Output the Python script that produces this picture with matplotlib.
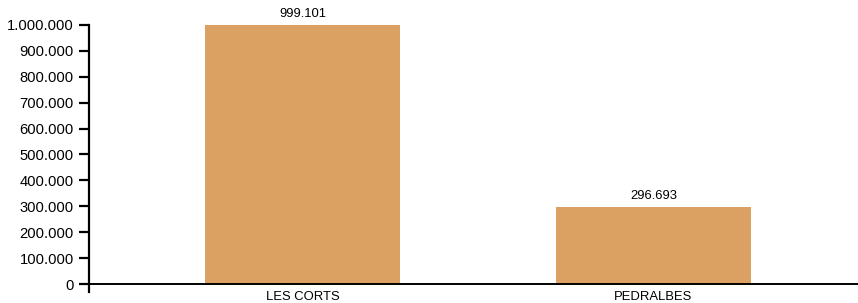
import matplotlib
matplotlib.use('Agg')
import matplotlib.pyplot as plt
from matplotlib.ticker import FuncFormatter

barrios = ['LES CORTS', 'PEDRALBES']
valores = [999101, 296693]
yticks = [0, 100000, 200000, 300000, 400000, 500000, 600000, 700000, 800000, 900000, 1000000]

plt.rcParams['font.family'] = ['Liberation Sans', 'DejaVu Sans']


def punto(v):
    return '{:,.0f}'.format(v).replace(',', '.')


fig = plt.figure(figsize=(8.58, 3.03), dpi=100)
ax = fig.add_axes([89 / 858, 0, 769 / 858, 1])

x = list(range(len(barrios)))
ax.bar(x, valores, width=0.556, color='#dba162', zorder=2)

ax.set_xlim(-0.608, 1.583)
ax.set_ylim(-73359, 1096525)

for s in ['top', 'right', 'bottom']:
    ax.spines[s].set_visible(False)
ax.spines['left'].set_bounds(-30888, 1000000)
ax.spines['left'].set_linewidth(1.6)
ax.axhline(0, color='black', linewidth=1.4, zorder=3)

ax.set_yticks(yticks)
ax.yaxis.set_major_formatter(FuncFormatter(lambda v, p: punto(v)))
ax.tick_params(axis='y', length=7, width=1.6, pad=4, labelsize=10.6)
ax.set_xticks([])

for xi, v, nombre in zip(x, valores, barrios):
    ax.annotate(punto(v), (xi, v), xytext=(0, 4), textcoords='offset points',
                ha='center', va='bottom', fontsize=9.4)
    ax.annotate(nombre, (xi, 0), xytext=(0, -5), textcoords='offset points',
                ha='center', va='top', fontsize=9.4)

fig.savefig('out.png', dpi=100)
